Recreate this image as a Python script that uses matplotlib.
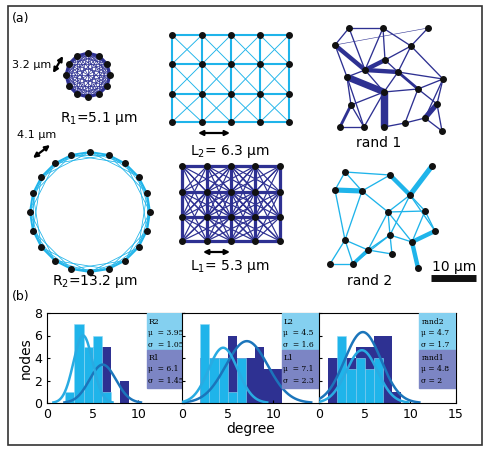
import numpy as np
import matplotlib
matplotlib.use("Agg")
import matplotlib.pyplot as plt
from matplotlib.patches import Rectangle

DARK = "#2e3192"
LIGHT = "#1fb4ea"
CDARK = "#1b75bb"
CLIGHT = "#29abe2"

# histogram data (bin left edges, counts)
r1_edges = [4, 5, 6, 8]; r1_counts = [1, 5, 5, 2]
r2_edges = [2, 3, 4, 5, 6]; r2_counts = [1, 7, 5, 6, 1]
l1_edges = [2, 3, 4, 5, 6, 7, 8, 9, 10]; l1_counts = [4, 4, 4, 6, 4, 4, 5, 3, 3]
l2_edges = [2, 3, 4, 5, 6]; l2_counts = [7, 4, 4, 1, 4]
rd1_edges = [1, 2, 3, 4, 5, 6, 7, 8]; rd1_counts = [4, 4, 4, 5, 5, 6, 6, 1]
rd2_edges = [2, 3, 4, 5, 6]; rd2_counts = [6, 3, 4, 3, 4]
fits = {"R2": (3.95, 1.05, 15.8), "R1": (6.1, 1.45, 12.4),
        "L2": (4.5, 1.6, 19.7), "L1": (7.1, 2.3, 31.7),
        "rand2": (4.7, 1.7, 20.0), "rand1": (4.8, 2, 31.6)}

# network node positions (picture coordinates)
ring1_angles = np.deg2rad([0, 30, 60, 90, 120, 150, 180, 210, 240, 270, 300, 330])
ring2_angles = np.deg2rad([0, 18, 36, 54, 72, 90, 108, 126, 144, 162, 180, 198, 216, 234, 252, 270, 288, 306, 324, 342])
l2_x = [172, 202, 231, 260, 289]; l2_y = [35, 64, 94, 122]
l1_x = [182, 207, 231, 255, 280]; l1_y = [166, 192, 217, 241]
rand1_x = [349, 383, 428, 335, 411, 385, 365, 347, 398, 443, 418, 351, 384, 437, 340, 364, 384, 405, 425, 442]
rand1_y = [28, 28, 28, 45, 46, 60, 70, 77, 72, 79, 89, 105, 92, 104, 127, 127, 127, 123, 118, 131]
rand1_edges = [(0,1),(0,3),(0,6),(1,6),(1,5),(1,4),(2,4),(3,7),(3,6),(4,8),(4,5),(5,6),(6,7),(6,8),(5,8),(7,11),(7,12),
               (6,12),(8,10),(8,9),(10,9),(10,13),(9,13),(11,14),(11,15),(12,16),(12,15),(10,17),(13,18),(18,19),(13,19),
               (17,18),(16,17),(14,15),(7,15),(8,12),(10,12),(9,18),(11,12),(4,9),(2,3)]
rand1_w = [1,1,1,1,1,1,1,1,5,1,1,5,1,5,1,1,8,1,3,1,1,1,1,3,1,9,1,1,6,1,1,1,1,1,1,1,1,1,1,1,0]
rand2_x = [345, 390, 432, 335, 362, 410, 388, 425, 435, 345, 368, 390, 412, 330, 353, 392, 418]
rand2_y = [172, 175, 166, 190, 191, 195, 212, 211, 231, 240, 250, 235, 242, 264, 264, 254, 268]
rand2_edges = [(0,1),(0,3),(0,4),(1,5),(1,4),(2,5),(3,4),(3,9),(4,6),(4,9),(5,6),(5,7),(5,8),(6,11),(6,10),(7,8),(8,12),
               (9,10),(9,13),(10,14),(10,11),(11,12),(12,16),(11,15),(13,14),(14,11),(6,7),(7,12),(9,14),(10,15),(6,12),(5,11)]
rand2_w = [1,1,1,5,1,6,6,1,1,1,1,1,1,1,1,1,5,1,1,4,1,1,5,1,1,1,1,1,1,1,1,1]

fig = plt.figure(figsize=(4.88, 4.55), dpi=100)
top = fig.add_axes([0, 0, 1, 1])
top.set_xlim(0, 488); top.set_ylim(455, 0); top.axis("off")
top.add_patch(Rectangle((8, 6), 474, 439, fill=False, lw=1.2, ec="#333333"))

def draw_net(xs, ys, edges, widths, col):
    for (a, b), w in zip(edges, widths):
        top.plot([xs[a], xs[b]], [ys[a], ys[b]], color=col, lw=0.4 + w * 0.55, zorder=2, solid_capstyle="butt")
    top.scatter(xs, ys, s=16, color="#111111", zorder=3)

# ring 1
x1 = 88 + 22 * np.cos(ring1_angles); y1 = 75 + 22 * np.sin(ring1_angles)
e1 = [(i, j) for i in range(12) for j in range(i + 1, 12)]
draw_net(x1, y1, e1, [0.2 + 3 * (j - i in (1, 11)) for i, j in e1], DARK)
# ring 2
x2 = 90 + 60 * np.cos(ring2_angles); y2 = 212 + 60 * np.sin(ring2_angles)
e2 = [(i, (i + k) % 20) for i in range(20) for k in (1, 2, 3)]
draw_net(x2, y2, e2, [0.3 + 1.5 * (k == 1) for i in range(20) for k in (1, 2, 3)], LIGHT)
# grids
def grid(xs, ys, maxd, col, base):
    px = [x for y in ys for x in xs]; py = [y for y in ys for x in xs]
    n = len(px); ed = []; w = []
    for i in range(n):
        for j in range(i + 1, n):
            di = abs(i % 5 - j % 5); dj = abs(i // 5 - j // 5)
            if max(di, dj) <= maxd and (di, dj) != (0, 0):
                ed.append((i, j)); w.append(base * (2.5 if (di + dj) == 1 else 0.6))
    draw_net(px, py, ed, w, col)
grid(l2_x, l2_y, 1, LIGHT, 0.8)
grid(l1_x, l1_y, 2, DARK, 1.4)
draw_net(rand1_x, rand1_y, rand1_edges, rand1_w, DARK)
draw_net(rand2_x, rand2_y, rand2_edges, rand2_w, LIGHT)

fs = 10
top.text(12, 22, "(a)", fontsize=9)
top.text(12, 300, "(b)", fontsize=9)
top.text(12, 68, "3.2 μm", fontsize=8)
top.text(60, 122, "R$_1$=5.1 μm", fontsize=fs)
top.text(17, 138, "4.1 μm", fontsize=8)
top.text(52, 285, "R$_2$=13.2 μm", fontsize=fs)
top.text(190, 155, "L$_2$= 6.3 μm", fontsize=fs)
top.text(190, 270, "L$_1$= 5.3 μm", fontsize=fs)
top.text(356, 147, "rand 1", fontsize=fs)
top.text(347, 285, "rand 2", fontsize=fs)
top.text(432, 271, "10 μm", fontsize=fs)
top.plot([431, 476], [278, 278], color="#111111", lw=5, solid_capstyle="butt")
for (xa, ya, xb, yb) in [(53, 73, 63, 56), (33, 158, 50, 145), (198, 133, 230, 133), (203, 252, 230, 252)]:
    top.annotate("", xy=(xb, yb), xytext=(xa, ya),
                 arrowprops=dict(arrowstyle="<|-|>", color="black", lw=1.6, mutation_scale=7, shrinkA=0, shrinkB=0))

# bottom histograms
panels = [((r1_edges, r1_counts, "R1"), (r2_edges, r2_counts, "R2")),
          ((l1_edges, l1_counts, "L1"), (l2_edges, l2_counts, "L2")),
          ((rd1_edges, rd1_counts, "rand1"), (rd2_edges, rd2_counts, "rand2"))]
lefts = [47, 182, 319]
xx = np.linspace(0, 15, 300)
for k, ((de, dc, dn), (le, lc, ln)) in enumerate(panels):
    ax = fig.add_axes([lefts[k] / 488, 1 - 403 / 455, 137 / 488, 90 / 455])
    ax.bar(de, dc, width=1, align="edge", color=DARK, zorder=1)
    ax.bar(le, lc, width=1, align="edge", color=LIGHT, edgecolor="#8fd8f5", lw=0.4, zorder=2)
    for name, c in ((dn, CDARK), (ln, CLIGHT)):
        mu, sd, a = fits[name]
        yy = a / (sd * np.sqrt(2 * np.pi)) * np.exp(-(xx - mu) ** 2 / (2 * sd ** 2))
        m = yy > 0.05
        ax.plot(xx[m], yy[m], color=c, lw=1.8, zorder=3)
    ax.set_xlim(0, 15); ax.set_ylim(0, 8)
    ax.set_xticks([0, 5, 10, 15] if k == 2 else [0, 5, 10])
    ax.set_yticks([0, 2, 4, 6, 8])
    ax.tick_params(labelsize=9, length=2, direction="in")
    if k > 0:
        ax.set_yticklabels([])
    else:
        ax.set_ylabel("nodes", fontsize=10, labelpad=1)
    if k == 1:
        ax.set_xlabel("degree", fontsize=10, labelpad=1)
    bx = 10.9 if k < 2 else 11.0
    mu_l, sd_l, _ = fits[ln]; mu_d, sd_d, _ = fits[dn]
    eq = " = " if k == 2 else "  = "
    ax.add_patch(Rectangle((bx, 4.7), 15 - bx, 3.3, color="#84d0f0", zorder=4))
    ax.add_patch(Rectangle((bx, 1.3), 15 - bx, 3.4, color="#7c85c4", zorder=4))
    ax.text(bx + 0.2, 7.6, f"{ln}\nμ{eq}{mu_l}\nσ{eq}{sd_l}", fontsize=5.5, family="DejaVu Serif", va="top", zorder=5, linespacing=1.6)
    ax.text(bx + 0.2, 4.4, f"{dn}\nμ{eq}{mu_d}\nσ{eq}{sd_d}", fontsize=5.5, family="DejaVu Serif", va="top", zorder=5, linespacing=1.6)

fig.savefig("out.png", dpi=100)
